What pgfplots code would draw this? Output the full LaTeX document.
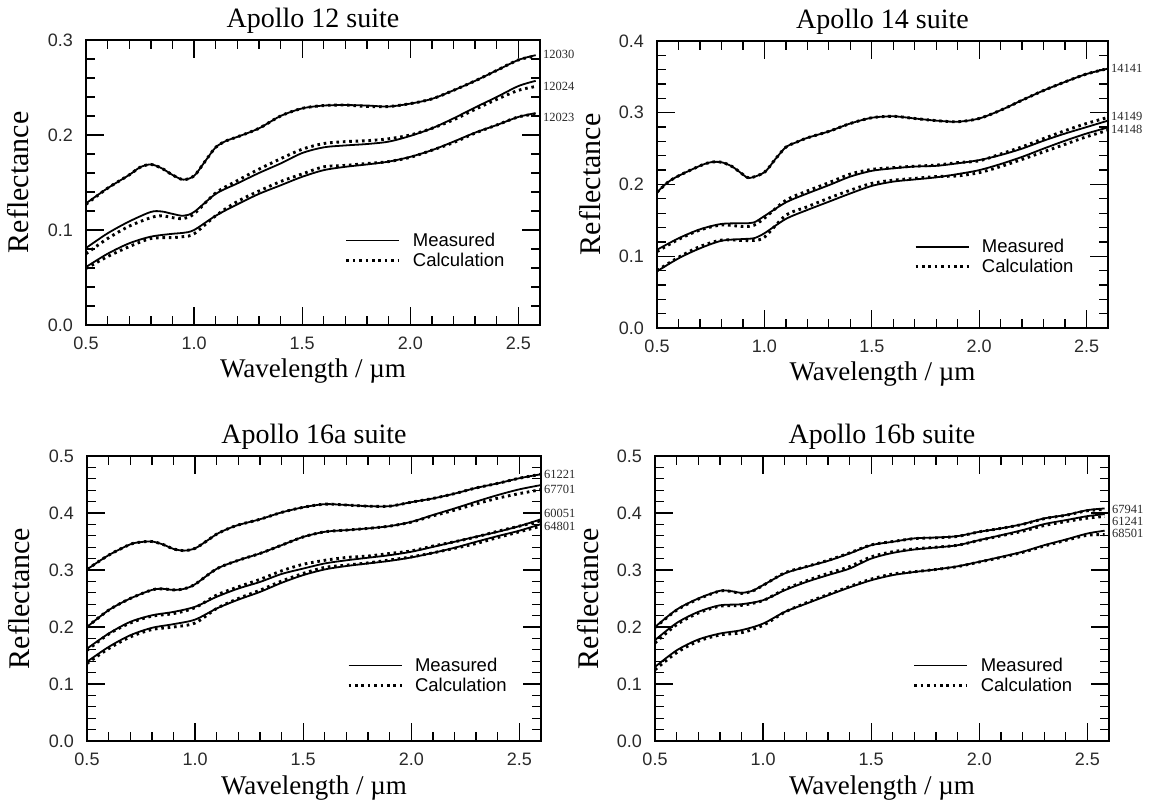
\documentclass[border=0pt]{standalone}
\usepackage{fontspec}
\setmainfont{Liberation Serif}
\newfontfamily\sansf{Liberation Sans}
\usepackage{pgfplots}
\pgfplotsset{compat=1.18}
\definecolor{lab}{HTML}{2A2A2A}
\tikzset{lbl/.style={anchor=west, inner sep=0pt, xshift=3pt, text=lab, font=\fontsize{12.5}{12.5}\selectfont}}
\pgfplotsset{
  legend image code/.code={\draw[#1] (0pt,0pt) -- (53pt,0pt);},
  apollo/.style={
    scale only axis,
    xmin=0.5, xmax=2.6, ymin=0,
    xtick={0.5,1,1.5,2,2.5},
    minor x tick num=4,
    minor y tick num=4,
    scaled y ticks=false,
    tick align=inside,
    major tick length=18pt, minor tick length=9pt,
    every tick/.style={black, line width=1.3pt},
    axis line style={line width=1.6pt},
    /pgf/number format/assume math mode=true,
    /pgf/number format/fixed,
    /pgf/number format/fixed zerofill,
    /pgf/number format/precision=1,
    ticklabel style={font=\sansf\fontsize{18}{18}\selectfont, text=lab},
    xticklabel style={anchor=north, inner sep=0pt, yshift=-12pt},
    yticklabel style={anchor=east, inner sep=0pt, xshift=-13pt},
    every axis title/.style={at={(rel axis cs:0.5,1)}, anchor=base, yshift=12pt, font=\fontsize{28}{30}\selectfont},
    every axis x label/.style={at={(rel axis cs:0.5,0)}, anchor=base, yshift=-53pt, font=\fontsize{27}{29}\selectfont},
    every axis y label/.style={at={(rel axis cs:0,0.5)}, rotate=90, anchor=base, yshift=57pt, font=\fontsize{30}{32}\selectfont},
    xlabel={Wavelength / µm}, ylabel={Reflectance},
    clip=false,
    legend cell align=left,
    legend style={draw=none, fill=none, inner sep=0pt, outer sep=0pt, row sep=4.7pt, column sep=12pt, anchor=north west, font=\sansf\fontsize{18.5}{18.5}\selectfont, nodes={inner sep=0pt}},
    legend entries={Measured, Calculation},
  },
  meas/.style={black, line width=1.8pt, smooth},
  calc/.style={black, line width=2.9pt, dash pattern=on 2.6pt off 3.8pt, smooth},
}
\begin{document}
\begin{tikzpicture}
\useasboundingbox (0,0) rectangle (1150pt,805pt);

% ---------------- Apollo 12 ----------------
\begin{axis}[apollo, at={(86pt,480pt)}, anchor=south west, width=454pt, height=285pt,
  ymax=0.3, ytick={0,0.1,0.2,0.3}, title={Apollo 12 suite},
  legend style={at={(0.5705,0.3223)}}]
\addplot[meas] coordinates {(0.5,0.128)(0.6,0.144)(0.7,0.158)(0.75,0.166)(0.8,0.169)(0.85,0.165)(0.9,0.158)(0.95,0.153)(1.0,0.157)(1.05,0.172)(1.1,0.187)(1.15,0.194)(1.2,0.198)(1.3,0.207)(1.4,0.220)(1.5,0.228)(1.6,0.231)(1.7,0.2315)(1.8,0.231)(1.9,0.230)(2.0,0.233)(2.1,0.238)(2.2,0.247)(2.3,0.257)(2.4,0.268)(2.5,0.279)(2.58,0.284)};
\addplot[calc] coordinates {(0.5,0.127)(0.6,0.144)(0.7,0.158)(0.75,0.166)(0.8,0.169)(0.85,0.165)(0.9,0.158)(0.95,0.153)(1.0,0.157)(1.05,0.172)(1.1,0.187)(1.15,0.194)(1.2,0.198)(1.3,0.207)(1.4,0.220)(1.5,0.228)(1.6,0.231)(1.7,0.2315)(1.8,0.230)(1.9,0.230)(2.0,0.233)(2.1,0.238)(2.2,0.247)(2.3,0.257)(2.4,0.268)(2.5,0.279)(2.58,0.283)};
\addplot[meas] coordinates {(0.5,0.081)(0.6,0.0965)(0.7,0.109)(0.8,0.119)(0.85,0.1195)(0.9,0.117)(0.95,0.115)(1.0,0.119)(1.1,0.138)(1.2,0.149)(1.3,0.160)(1.4,0.170)(1.5,0.181)(1.6,0.187)(1.7,0.189)(1.8,0.1905)(1.9,0.193)(2.0,0.199)(2.1,0.207)(2.2,0.2175)(2.3,0.229)(2.4,0.240)(2.5,0.2515)(2.58,0.257)};
\addplot[calc] coordinates {(0.5,0.075)(0.6,0.091)(0.7,0.104)(0.8,0.113)(0.85,0.115)(0.9,0.113)(0.95,0.112)(1.0,0.117)(1.1,0.139)(1.2,0.152)(1.3,0.164)(1.4,0.175)(1.5,0.185)(1.6,0.191)(1.7,0.193)(1.8,0.194)(1.9,0.196)(2.0,0.200)(2.1,0.207)(2.2,0.216)(2.3,0.227)(2.4,0.2375)(2.5,0.247)(2.58,0.251)};
\addplot[meas] coordinates {(0.5,0.061)(0.6,0.075)(0.7,0.086)(0.8,0.093)(0.9,0.096)(0.95,0.097)(1.0,0.1)(1.1,0.115)(1.2,0.127)(1.3,0.138)(1.4,0.147)(1.5,0.156)(1.6,0.163)(1.7,0.1665)(1.8,0.169)(1.9,0.172)(2.0,0.177)(2.1,0.184)(2.2,0.193)(2.3,0.2025)(2.4,0.2105)(2.5,0.219)(2.58,0.223)};
\addplot[calc] coordinates {(0.5,0.0595)(0.6,0.072)(0.7,0.0825)(0.8,0.091)(0.9,0.092)(0.95,0.093)(1.0,0.096)(1.1,0.115)(1.2,0.130)(1.3,0.141)(1.4,0.151)(1.5,0.159)(1.6,0.1665)(1.7,0.168)(1.8,0.170)(1.9,0.172)(2.0,0.1765)(2.1,0.184)(2.2,0.192)(2.3,0.202)(2.4,0.2105)(2.5,0.219)(2.58,0.222)};
\node[lbl] at (axis cs:2.6,0.285) {12030};
\node[lbl] at (axis cs:2.6,0.2516) {12024};
\node[lbl] at (axis cs:2.6,0.218) {12023};
\end{axis}

% ---------------- Apollo 14 ----------------
\begin{axis}[apollo, at={(657pt,477pt)}, anchor=south west, width=451pt, height=287pt,
  ymax=0.4, ytick={0,0.1,0.2,0.3,0.4}, title={Apollo 14 suite},
  legend style={at={(0.570,0.3083)}}]
\addplot[meas] coordinates {(0.5,0.189)(0.55,0.203)(0.6,0.212)(0.7,0.226)(0.75,0.231)(0.8,0.231)(0.85,0.225)(0.9,0.214)(0.93,0.209)(1.0,0.217)(1.05,0.235)(1.1,0.252)(1.15,0.259)(1.2,0.265)(1.3,0.274)(1.4,0.285)(1.5,0.293)(1.6,0.295)(1.7,0.292)(1.8,0.289)(1.9,0.2875)(2.0,0.292)(2.1,0.3035)(2.2,0.3175)(2.3,0.331)(2.4,0.343)(2.5,0.354)(2.6,0.3615)};
\addplot[calc] coordinates {(0.5,0.189)(0.55,0.203)(0.6,0.212)(0.7,0.226)(0.75,0.231)(0.8,0.231)(0.85,0.225)(0.9,0.214)(0.93,0.209)(1.0,0.217)(1.05,0.235)(1.1,0.252)(1.15,0.259)(1.2,0.265)(1.3,0.274)(1.4,0.285)(1.5,0.293)(1.6,0.295)(1.7,0.292)(1.8,0.289)(1.9,0.2875)(2.0,0.292)(2.1,0.3035)(2.2,0.3175)(2.3,0.331)(2.4,0.343)(2.5,0.354)(2.6,0.3615)};
\addplot[meas] coordinates {(0.5,0.109)(0.6,0.125)(0.7,0.1375)(0.8,0.145)(0.9,0.146)(0.95,0.147)(1.0,0.156)(1.1,0.175)(1.2,0.1875)(1.3,0.199)(1.4,0.211)(1.5,0.219)(1.6,0.2225)(1.7,0.225)(1.8,0.226)(1.9,0.2295)(2.0,0.234)(2.1,0.241)(2.2,0.250)(2.3,0.261)(2.4,0.271)(2.5,0.280)(2.6,0.289)};
\addplot[calc] coordinates {(0.5,0.1065)(0.6,0.1235)(0.7,0.1365)(0.8,0.1435)(0.9,0.1415)(0.95,0.143)(1.0,0.153)(1.1,0.178)(1.2,0.191)(1.3,0.2025)(1.4,0.2145)(1.5,0.221)(1.6,0.2235)(1.7,0.2255)(1.8,0.227)(1.9,0.2305)(2.0,0.233)(2.1,0.2425)(2.2,0.2525)(2.3,0.264)(2.4,0.275)(2.5,0.285)(2.6,0.2935)};
\addplot[meas] coordinates {(0.5,0.079)(0.6,0.097)(0.7,0.111)(0.8,0.1215)(0.9,0.124)(0.95,0.125)(1.0,0.132)(1.1,0.152)(1.2,0.1645)(1.3,0.176)(1.4,0.1875)(1.5,0.198)(1.6,0.204)(1.7,0.207)(1.8,0.210)(1.9,0.2145)(2.0,0.220)(2.1,0.2285)(2.2,0.2385)(2.3,0.250)(2.4,0.261)(2.5,0.271)(2.6,0.2795)};
\addplot[calc] coordinates {(0.5,0.080)(0.6,0.0985)(0.7,0.1135)(0.8,0.1225)(0.9,0.122)(0.95,0.122)(1.0,0.1265)(1.1,0.157)(1.2,0.169)(1.3,0.181)(1.4,0.192)(1.5,0.2015)(1.6,0.206)(1.7,0.2085)(1.8,0.211)(1.9,0.212)(2.0,0.2165)(2.1,0.225)(2.2,0.235)(2.3,0.2455)(2.4,0.256)(2.5,0.2665)(2.6,0.2755)};
\node[lbl] at (axis cs:2.6,0.3624) {14141};
\node[lbl] at (axis cs:2.6,0.295) {14149};
\node[lbl] at (axis cs:2.6,0.2765) {14148};
\end{axis}

% ---------------- Apollo 16a ----------------
\begin{axis}[apollo, at={(87pt,64pt)}, anchor=south west, width=454pt, height=285pt,
  ymax=0.5, ytick={0,0.1,0.2,0.3,0.4,0.5}, title={Apollo 16a suite},
  legend style={at={(0.573,0.291)}}]
\addplot[meas] coordinates {(0.5,0.301)(0.6,0.326)(0.7,0.345)(0.75,0.349)(0.8,0.350)(0.85,0.345)(0.9,0.337)(0.95,0.334)(1.0,0.338)(1.05,0.350)(1.1,0.363)(1.15,0.372)(1.2,0.379)(1.3,0.389)(1.4,0.401)(1.5,0.410)(1.6,0.4155)(1.7,0.414)(1.8,0.412)(1.9,0.412)(2.0,0.419)(2.1,0.4255)(2.2,0.434)(2.3,0.444)(2.4,0.452)(2.5,0.461)(2.6,0.468)};
\addplot[calc] coordinates {(0.5,0.301)(0.6,0.326)(0.7,0.345)(0.75,0.349)(0.8,0.350)(0.85,0.345)(0.9,0.337)(0.95,0.334)(1.0,0.338)(1.05,0.350)(1.1,0.363)(1.15,0.372)(1.2,0.379)(1.3,0.389)(1.4,0.401)(1.5,0.410)(1.6,0.4155)(1.7,0.414)(1.8,0.412)(1.9,0.412)(2.0,0.419)(2.1,0.4255)(2.2,0.434)(2.3,0.444)(2.4,0.452)(2.5,0.461)(2.6,0.468)};
\addplot[meas] coordinates {(0.5,0.200)(0.6,0.2295)(0.7,0.250)(0.8,0.265)(0.85,0.267)(0.9,0.265)(0.95,0.267)(1.0,0.275)(1.1,0.302)(1.2,0.317)(1.3,0.329)(1.4,0.3435)(1.5,0.358)(1.6,0.367)(1.7,0.370)(1.8,0.373)(1.9,0.377)(2.0,0.3845)(2.1,0.3965)(2.2,0.408)(2.3,0.420)(2.4,0.4315)(2.5,0.4415)(2.6,0.449)};
\addplot[calc] coordinates {(0.5,0.200)(0.6,0.2295)(0.7,0.250)(0.8,0.265)(0.85,0.267)(0.9,0.265)(0.95,0.267)(1.0,0.275)(1.1,0.302)(1.2,0.317)(1.3,0.329)(1.4,0.3435)(1.5,0.358)(1.6,0.367)(1.7,0.370)(1.8,0.373)(1.9,0.377)(2.0,0.384)(2.1,0.395)(2.2,0.405)(2.3,0.416)(2.4,0.426)(2.5,0.434)(2.6,0.441)};
\addplot[meas] coordinates {(0.5,0.162)(0.6,0.1885)(0.7,0.209)(0.8,0.2205)(0.9,0.2265)(1.0,0.2355)(1.1,0.253)(1.2,0.2675)(1.3,0.279)(1.4,0.293)(1.5,0.3025)(1.6,0.3115)(1.7,0.317)(1.8,0.3215)(1.9,0.326)(2.0,0.332)(2.1,0.3405)(2.2,0.3495)(2.3,0.3585)(2.4,0.367)(2.5,0.377)(2.6,0.389)};
\addplot[calc] coordinates {(0.5,0.159)(0.6,0.1875)(0.7,0.207)(0.8,0.219)(0.9,0.2235)(1.0,0.234)(1.1,0.256)(1.2,0.2705)(1.3,0.2835)(1.4,0.2985)(1.5,0.310)(1.6,0.317)(1.7,0.322)(1.8,0.3245)(1.9,0.329)(2.0,0.3335)(2.1,0.342)(2.2,0.3495)(2.3,0.358)(2.4,0.368)(2.5,0.377)(2.6,0.3865)};
\addplot[meas] coordinates {(0.5,0.139)(0.6,0.165)(0.7,0.1855)(0.8,0.1985)(0.9,0.205)(1.0,0.213)(1.1,0.2325)(1.2,0.248)(1.3,0.2615)(1.4,0.2775)(1.5,0.291)(1.6,0.301)(1.7,0.307)(1.8,0.3115)(1.9,0.316)(2.0,0.322)(2.1,0.330)(2.2,0.339)(2.3,0.3495)(2.4,0.3595)(2.5,0.369)(2.6,0.3805)};
\addplot[calc] coordinates {(0.5,0.136)(0.6,0.162)(0.7,0.1825)(0.8,0.1955)(0.9,0.200)(1.0,0.207)(1.1,0.2325)(1.2,0.250)(1.3,0.2645)(1.4,0.2805)(1.5,0.294)(1.6,0.3045)(1.7,0.3085)(1.8,0.3125)(1.9,0.3175)(2.0,0.323)(2.1,0.330)(2.2,0.338)(2.3,0.3465)(2.4,0.357)(2.5,0.367)(2.6,0.377)};
\node[lbl] at (axis cs:2.6,0.468) {61221};
\node[lbl] at (axis cs:2.6,0.442) {67701};
\node[lbl] at (axis cs:2.6,0.399) {60051};
\node[lbl] at (axis cs:2.6,0.377) {64801};
\end{axis}

% ---------------- Apollo 16b ----------------
\begin{axis}[apollo, at={(655pt,64pt)}, anchor=south west, width=454pt, height=285pt,
  ymax=0.5, ytick={0,0.1,0.2,0.3,0.4,0.5}, title={Apollo 16b suite},
  legend style={at={(0.568,0.291)}}]
\addplot[meas] coordinates {(0.5,0.200)(0.6,0.2305)(0.7,0.250)(0.8,0.2635)(0.85,0.263)(0.9,0.260)(0.95,0.2635)(1.0,0.2735)(1.1,0.294)(1.2,0.3055)(1.3,0.316)(1.4,0.329)(1.5,0.3435)(1.6,0.3495)(1.7,0.3555)(1.8,0.357)(1.9,0.3595)(2.0,0.367)(2.1,0.373)(2.2,0.3805)(2.3,0.3905)(2.4,0.3965)(2.5,0.405)(2.58,0.408)};
\addplot[calc] coordinates {(0.5,0.199)(0.6,0.2295)(0.7,0.249)(0.8,0.263)(0.85,0.2625)(0.9,0.259)(0.95,0.263)(1.0,0.273)(1.1,0.295)(1.2,0.306)(1.3,0.317)(1.4,0.330)(1.5,0.344)(1.6,0.350)(1.7,0.355)(1.8,0.3565)(1.9,0.359)(2.0,0.367)(2.1,0.373)(2.2,0.380)(2.3,0.390)(2.4,0.396)(2.5,0.404)(2.58,0.406)};
\addplot[meas] coordinates {(0.5,0.177)(0.6,0.207)(0.7,0.2265)(0.8,0.238)(0.9,0.240)(1.0,0.247)(1.1,0.2645)(1.2,0.279)(1.3,0.291)(1.4,0.3025)(1.5,0.320)(1.6,0.330)(1.7,0.336)(1.8,0.3395)(1.9,0.3435)(2.0,0.3525)(2.1,0.361)(2.2,0.370)(2.3,0.3805)(2.4,0.3875)(2.5,0.3945)(2.58,0.398)};
\addplot[calc] coordinates {(0.5,0.172)(0.6,0.204)(0.7,0.2245)(0.8,0.2365)(0.9,0.238)(1.0,0.2465)(1.1,0.266)(1.2,0.281)(1.3,0.294)(1.4,0.306)(1.5,0.323)(1.6,0.332)(1.7,0.337)(1.8,0.340)(1.9,0.3435)(2.0,0.352)(2.1,0.360)(2.2,0.368)(2.3,0.378)(2.4,0.385)(2.5,0.391)(2.58,0.394)};
\addplot[meas] coordinates {(0.5,0.130)(0.6,0.159)(0.7,0.178)(0.8,0.1885)(0.9,0.1945)(1.0,0.206)(1.1,0.2265)(1.2,0.241)(1.3,0.2555)(1.4,0.2695)(1.5,0.282)(1.6,0.291)(1.7,0.2965)(1.8,0.301)(1.9,0.3065)(2.0,0.3145)(2.1,0.323)(2.2,0.332)(2.3,0.3435)(2.4,0.3535)(2.5,0.364)(2.58,0.369)};
\addplot[calc] coordinates {(0.5,0.125)(0.6,0.155)(0.7,0.175)(0.8,0.186)(0.9,0.190)(1.0,0.203)(1.1,0.226)(1.2,0.2425)(1.3,0.257)(1.4,0.271)(1.5,0.284)(1.6,0.293)(1.7,0.297)(1.8,0.301)(1.9,0.306)(2.0,0.314)(2.1,0.322)(2.2,0.331)(2.3,0.342)(2.4,0.352)(2.5,0.361)(2.58,0.362)};
\node[lbl] at (axis cs:2.6,0.406) {67941};
\node[lbl] at (axis cs:2.6,0.385) {61241};
\node[lbl] at (axis cs:2.6,0.364) {68501};
\end{axis}
\end{tikzpicture}
\end{document}
